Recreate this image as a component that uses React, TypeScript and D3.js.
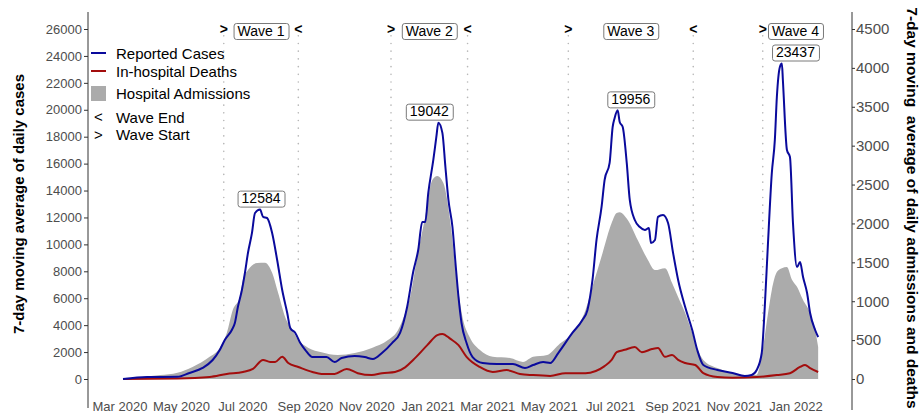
import { useEffect, useRef } from 'react';
import * as d3 from 'd3';

// 7-day moving averages
const reportedCases: [string, number][] = [
  ['2020-03-04', 0], ['2020-03-28', 150], ['2020-04-27', 160], ['2020-05-09', 450],
  ['2020-05-22', 820], ['2020-06-01', 1410], ['2020-06-08', 2150], ['2020-06-13', 2900],
  ['2020-06-20', 3640], ['2020-06-23', 4160], ['2020-06-26', 5350], ['2020-06-30', 6610],
  ['2020-07-03', 7880], ['2020-07-06', 9360], ['2020-07-10', 10850], ['2020-07-13', 12330],
  ['2020-07-18', 12584], ['2020-07-21', 12040], ['2020-07-25', 11960], ['2020-07-30', 10850],
  ['2020-08-04', 8840], ['2020-08-09', 6610], ['2020-08-14', 4900], ['2020-08-17', 3790],
  ['2020-08-22', 3420], ['2020-08-27', 2670], ['2020-09-01', 2150], ['2020-09-08', 1630],
  ['2020-09-17', 1630], ['2020-09-22', 1630], ['2020-09-30', 1260], ['2020-10-07', 1560],
  ['2020-10-20', 1710], ['2020-10-30', 1630], ['2020-11-07', 1490], ['2020-11-16', 1930],
  ['2020-11-26', 2670], ['2020-12-04', 3420], ['2020-12-11', 5350], ['2020-12-17', 7950],
  ['2020-12-22', 9580], ['2020-12-26', 11660], ['2020-12-29', 11660], ['2021-01-01', 13820],
  ['2021-01-06', 16270], ['2021-01-09', 17980], ['2021-01-11', 19042], ['2021-01-15', 18280],
  ['2021-01-18', 15750], ['2021-01-21', 13300], ['2021-01-25', 11290], ['2021-01-28', 8620],
  ['2021-01-31', 6090], ['2021-02-03', 4160], ['2021-02-08', 2670], ['2021-02-14', 1630],
  ['2021-02-24', 1190], ['2021-03-10', 1110], ['2021-03-26', 1110], ['2021-04-07', 820],
  ['2021-04-15', 1040], ['2021-04-25', 1260], ['2021-05-02', 1190], ['2021-05-10', 1930],
  ['2021-05-24', 3420], ['2021-06-03', 4380], ['2021-06-08', 5130], ['2021-06-13', 7360],
  ['2021-06-17', 10330], ['2021-06-22', 12780], ['2021-06-25', 14780], ['2021-06-30', 16050],
  ['2021-07-03', 18720], ['2021-07-05', 19390], ['2021-07-08', 19956], ['2021-07-10', 19090],
  ['2021-07-13', 18720], ['2021-07-17', 16050], ['2021-07-20', 13300], ['2021-07-25', 11810],
  ['2021-07-30', 11290], ['2021-08-04', 11070], ['2021-08-08', 11220], ['2021-08-10', 10100],
  ['2021-08-14', 10330], ['2021-08-17', 12040], ['2021-08-22', 12180], ['2021-08-27', 11590],
  ['2021-09-01', 9360], ['2021-09-06', 7360], ['2021-09-13', 5350], ['2021-09-20', 3640],
  ['2021-09-25', 2150], ['2021-10-01', 1040], ['2021-10-15', 670], ['2021-10-30', 450],
  ['2021-11-11', 220], ['2021-11-18', 300], ['2021-11-23', 670], ['2021-11-28', 1930],
  ['2021-12-01', 5350], ['2021-12-04', 9810], ['2021-12-08', 15300], ['2021-12-11', 17760],
  ['2021-12-13', 20950], ['2021-12-16', 23180], ['2021-12-18', 23437], ['2021-12-19', 22170],
  ['2021-12-23', 17010], ['2021-12-26', 16490], ['2021-12-29', 11590], ['2022-01-02', 8320],
  ['2022-01-05', 8690], ['2022-01-08', 7580], ['2022-01-12', 6390], ['2022-01-15', 4900],
  ['2022-01-20', 3640], ['2022-01-23', 3120],
];

const hospitalAdmissions: [string, number][] = [
  ['2020-03-04', 0], ['2020-04-10', 50], ['2020-04-27', 80], ['2020-05-12', 155],
  ['2020-05-29', 285], ['2020-06-08', 400], ['2020-06-15', 590], ['2020-06-21', 890],
  ['2020-06-28', 1055], ['2020-07-01', 1275], ['2020-07-06', 1400], ['2020-07-15', 1490],
  ['2020-07-23', 1495], ['2020-07-30', 1365], ['2020-08-05', 1105], ['2020-08-12', 795],
  ['2020-08-19', 630], ['2020-08-25', 500], ['2020-09-04', 400], ['2020-09-17', 345],
  ['2020-10-03', 310], ['2020-10-20', 335], ['2020-11-06', 400], ['2020-11-22', 500],
  ['2020-12-02', 630], ['2020-12-09', 850], ['2020-12-14', 1055], ['2020-12-21', 1570],
  ['2020-12-29', 2085], ['2021-01-05', 2560], ['2021-01-10', 2610], ['2021-01-16', 2520],
  ['2021-01-23', 2005], ['2021-01-29', 1310], ['2021-02-04', 795], ['2021-02-11', 540],
  ['2021-02-21', 375], ['2021-03-06', 285], ['2021-03-23', 270], ['2021-04-05', 220],
  ['2021-04-15', 285], ['2021-04-29', 310], ['2021-05-10', 435], ['2021-05-24', 590],
  ['2021-06-06', 885], ['2021-06-15', 1275], ['2021-06-23', 1620], ['2021-07-02', 2005],
  ['2021-07-07', 2135], ['2021-07-10', 2145], ['2021-07-18', 2045], ['2021-07-28', 1785],
  ['2021-08-07', 1530], ['2021-08-14', 1400], ['2021-08-24', 1425], ['2021-08-31', 1235],
  ['2021-09-06', 1055], ['2021-09-13', 850], ['2021-09-20', 590], ['2021-09-23', 465],
  ['2021-10-01', 245], ['2021-10-15', 140], ['2021-10-30', 75], ['2021-11-16', 50],
  ['2021-11-23', 55], ['2021-11-29', 375], ['2021-12-04', 825], ['2021-12-08', 1145],
  ['2021-12-13', 1375], ['2021-12-18', 1425], ['2021-12-23', 1440], ['2021-12-28', 1275],
  ['2022-01-02', 1185], ['2022-01-08', 1015], ['2022-01-15', 850], ['2022-01-20', 630],
  ['2022-01-23', 410],
];

const inHospitalDeaths: [string, number][] = [
  ['2020-03-04', 0], ['2020-04-27', 5], ['2020-05-29', 25], ['2020-06-15', 65],
  ['2020-07-01', 90], ['2020-07-11', 130], ['2020-07-21', 245], ['2020-07-28', 220],
  ['2020-08-02', 220], ['2020-08-09', 285], ['2020-08-15', 205], ['2020-08-25', 155],
  ['2020-09-08', 90], ['2020-09-17', 65], ['2020-09-30', 65], ['2020-10-12', 130],
  ['2020-10-23', 75], ['2020-11-06', 50], ['2020-11-16', 75], ['2020-11-29', 90],
  ['2020-12-09', 150], ['2020-12-17', 245], ['2020-12-31', 435], ['2021-01-10', 565],
  ['2021-01-15', 580], ['2021-01-23', 515], ['2021-01-31', 435], ['2021-02-08', 285],
  ['2021-02-21', 155], ['2021-03-06', 90], ['2021-03-20', 115], ['2021-04-02', 65],
  ['2021-04-15', 50], ['2021-05-02', 40], ['2021-05-17', 75], ['2021-06-06', 75],
  ['2021-06-25', 165], ['2021-07-02', 245], ['2021-07-07', 345], ['2021-07-15', 375],
  ['2021-07-25', 410], ['2021-08-01', 345], ['2021-08-11', 385], ['2021-08-17', 400],
  ['2021-08-24', 285], ['2021-08-31', 310], ['2021-09-06', 245], ['2021-09-13', 205],
  ['2021-09-23', 180], ['2021-10-01', 75], ['2021-10-15', 25], ['2021-10-30', 15],
  ['2021-11-23', 25], ['2021-12-13', 50], ['2021-12-26', 75], ['2022-01-05', 155],
  ['2022-01-10', 180], ['2022-01-15', 140], ['2022-01-23', 90],
];

// waves
const waveNames = ['Wave 1', 'Wave 2', 'Wave 3', 'Wave 4'];
const waveStarts = ['2020-06-12', '2020-11-25', '2021-05-20', '2021-11-29'];
const waveEnds: (string | null)[] = ['2020-08-25', '2021-02-09', '2021-09-21', null];
const openWaveEnd = '2022-02-02'; // wave 4 still running, only used to centre its labels
const wavePeaks = [12584, 19042, 19956, 23437];

// axes
const caseTicks = d3.range(0, 26001, 2000);
const admissionTicks = d3.range(0, 4501, 500);
const monthTicks = ['2020-03-01', '2020-05-01', '2020-07-01', '2020-09-01', '2020-11-01',
  '2021-01-01', '2021-03-01', '2021-05-01', '2021-07-01', '2021-09-01', '2021-11-01', '2022-01-01'];

const BLUE = '#0a0a9c';
const RED = '#a30d0d';
const GREY = '#ababab';
const FONT = '"Liberation Sans", Arial, Helvetica, sans-serif';

export default function App() {
  const svgRef = useRef<SVGSVGElement>(null);

  useEffect(() => {
    if (!svgRef.current) return;
    const svg = d3.select(svgRef.current);
    svg.selectAll('*').remove();

    const parse = d3.utcParse('%Y-%m-%d');
    const dt = (s: string) => parse(s) as Date;

    const x = d3.scaleUtc().domain([dt('2020-03-01'), dt('2022-01-01')]).range([120, 796]);
    const yL = d3.scaleLinear().domain([0, 26000]).range([379, 29]);
    const yR = d3.scaleLinear().domain([0, 4500]).range([379, 29]);

    // wave boundaries (dotted)
    const waveLines: string[] = [...waveStarts, ...(waveEnds.filter(Boolean) as string[])];
    svg.append('g').selectAll('line')
      .data(waveLines)
      .enter()
      .append('line')
      .attr('x1', d => x(dt(d)))
      .attr('x2', d => x(dt(d)))
      .attr('y1', yL(25500))
      .attr('y2', yL(4000))
      .attr('stroke', '#b8b8b8')
      .attr('stroke-width', 1.6)
      .attr('stroke-linecap', 'round')
      .attr('stroke-dasharray', '0.1 7.6');

    // admissions area
    const area = d3.area<[string, number]>()
      .x(d => x(dt(d[0])))
      .y0(yR(0))
      .y1(d => yR(d[1]))
      .curve(d3.curveMonotoneX);
    svg.append('path').datum(hospitalAdmissions).attr('d', area).attr('fill', GREY);

    // deaths and cases lines
    const lineR = d3.line<[string, number]>().x(d => x(dt(d[0]))).y(d => yR(d[1])).curve(d3.curveMonotoneX);
    const lineL = d3.line<[string, number]>().x(d => x(dt(d[0]))).y(d => yL(d[1])).curve(d3.curveMonotoneX);
    svg.append('path').datum(inHospitalDeaths).attr('d', lineR)
      .attr('fill', 'none').attr('stroke', RED).attr('stroke-width', 2);
    svg.append('path').datum(reportedCases).attr('d', lineL)
      .attr('fill', 'none').attr('stroke', BLUE).attr('stroke-width', 2);

    // left axis
    const gL = svg.append('g').attr('transform', 'translate(88,0)')
      .call(d3.axisLeft(yL).tickValues(caseTicks).tickSize(4).tickPadding(2).tickFormat(d3.format('d')));
    gL.select('.domain').remove();
    gL.selectAll('line').attr('stroke', '#333');
    gL.selectAll('text').attr('font-family', FONT).attr('font-size', 13).attr('fill', '#4d4d4d');
    svg.append('line').attr('x1', 88).attr('x2', 88).attr('y1', 12).attr('y2', 408)
      .attr('stroke', '#333').attr('stroke-width', 1);

    // right axis
    const gR = svg.append('g').attr('transform', 'translate(852,0)')
      .call(d3.axisRight(yR).tickValues(admissionTicks).tickSize(3).tickPadding(1).tickFormat(d3.format('d')));
    gR.select('.domain').remove();
    gR.selectAll('line').attr('stroke', '#333');
    gR.selectAll('text').attr('font-family', FONT).attr('font-size', 15).attr('fill', '#4d4d4d');
    svg.append('line').attr('x1', 852).attr('x2', 852).attr('y1', 12).attr('y2', 410)
      .attr('stroke', '#333').attr('stroke-width', 1);

    // x labels
    svg.append('g').selectAll('text')
      .data(monthTicks)
      .enter()
      .append('text')
      .attr('x', d => x(dt(d)))
      .attr('y', 411)
      .attr('text-anchor', 'middle')
      .attr('font-family', FONT)
      .attr('font-size', 13)
      .attr('fill', '#4d4d4d')
      .text(d => d3.utcFormat('%b %Y')(dt(d)));

    // axis titles
    svg.append('text')
      .attr('transform', 'translate(24,204) rotate(-90)')
      .attr('text-anchor', 'middle')
      .attr('font-family', FONT)
      .attr('font-weight', 'bold')
      .attr('font-size', 15)
      .text('7-day moving average of daily cases');
    svg.append('text')
      .attr('transform', 'translate(907,208) rotate(90)')
      .attr('text-anchor', 'middle')
      .attr('font-family', FONT)
      .attr('font-weight', 'bold')
      .attr('font-size', 15.5)
      .style('white-space', 'pre')
      .text('7-day moving  average of daily admissions and deaths');

    // wave markers and labels
    const labelBox = (cx: number, bottom: number, txt: string, h: number) => {
      const g = svg.append('g');
      const t = g.append('text')
        .attr('x', cx)
        .attr('y', bottom - 4.5)
        .attr('text-anchor', 'middle')
        .attr('font-family', FONT)
        .attr('font-size', 14)
        .attr('fill', '#000')
        .text(txt);
      const w = (t.node() as SVGTextElement).getComputedTextLength() + 8;
      g.insert('rect', 'text')
        .attr('x', cx - w / 2 + 0.5)
        .attr('y', bottom - h + 0.5)
        .attr('width', w)
        .attr('height', h - 1)
        .attr('rx', 2.5)
        .attr('fill', '#fff')
        .attr('stroke', '#7a7a7a')
        .attr('stroke-width', 1);
    };

    waveNames.forEach((name, i) => {
      const s = x(dt(waveStarts[i]));
      const endStr = waveEnds[i];
      const e = x(dt(endStr ?? openWaveEnd));
      const cx = (s + e) / 2;
      svg.append('text').attr('x', s).attr('y', 34).attr('text-anchor', 'middle')
        .attr('font-family', FONT).attr('font-size', 14).attr('font-weight', 'bold').text('>');
      if (endStr) {
        svg.append('text').attr('x', e).attr('y', 34).attr('text-anchor', 'middle')
          .attr('font-family', FONT).attr('font-size', 14).attr('font-weight', 'bold').text('<');
      }
      labelBox(cx, 40, name, 17);
      labelBox(cx, yL(wavePeaks[i]) - 2, String(wavePeaks[i]), 17);
    });

    // legend
    const legend = svg.append('g').attr('font-family', FONT).attr('font-size', 15);
    legend.append('line').attr('x1', 91).attr('x2', 106).attr('y1', 53).attr('y2', 53)
      .attr('stroke', BLUE).attr('stroke-width', 2);
    legend.append('text').attr('x', 116).attr('y', 58.5).text('Reported Cases');
    legend.append('line').attr('x1', 91).attr('x2', 106).attr('y1', 71).attr('y2', 71)
      .attr('stroke', RED).attr('stroke-width', 2);
    legend.append('text').attr('x', 116).attr('y', 76.5).text('In-hospital Deaths');
    legend.append('rect').attr('x', 91).attr('y', 86).attr('width', 15).attr('height', 15)
      .attr('fill', GREY);
    legend.append('text').attr('x', 116).attr('y', 99).text('Hospital Admissions');
    legend.append('text').attr('x', 98.5).attr('y', 122).attr('text-anchor', 'middle').text('<');
    legend.append('text').attr('x', 116).attr('y', 122.5).text('Wave End');
    legend.append('text').attr('x', 98.5).attr('y', 139.5).attr('text-anchor', 'middle').text('>');
    legend.append('text').attr('x', 116).attr('y', 140).text('Wave Start');
  }, []);

  return (
    <svg
      ref={svgRef}
      width={921}
      height={413}
      style={{ position: 'absolute', left: 0, top: 0, background: '#fff' }}
    />
  );
}
